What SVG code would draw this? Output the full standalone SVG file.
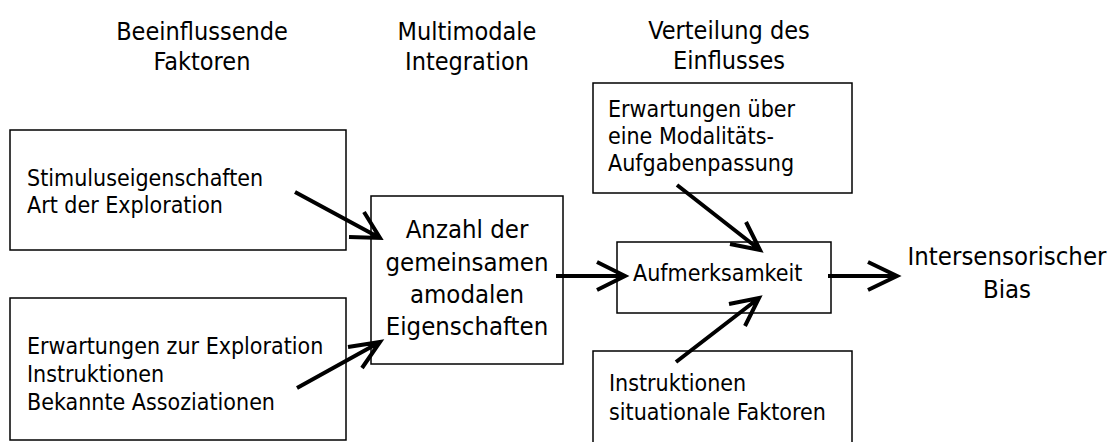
<svg xmlns="http://www.w3.org/2000/svg" width="1114" height="442" viewBox="0 0 1114 442">
  <style>
    .box { fill: #ffffff; stroke: #000000; stroke-width: 1.5; }
    .t { font-family: "DejaVu Sans Condensed", "DejaVu Sans", sans-serif; fill: #000000; }
    .hd { font-size: 25px; text-anchor: middle; }
    .big { font-size: 25.5px; text-anchor: middle; }
    .sm { font-size: 23px; }
    .conn { fill: none; stroke: #000000; stroke-width: 4; stroke-linecap: butt; stroke-linejoin: miter; }
  </style>
  <rect width="1114" height="442" fill="#ffffff"/>

  <!-- column headings -->
  <g id="headings" class="t hd">
    <text x="202" y="40">Beeinflussende</text>
    <text x="202" y="70">Faktoren</text>
    <text x="467" y="40">Multimodale</text>
    <text x="467" y="70">Integration</text>
    <text x="729" y="39">Verteilung des</text>
    <text x="729" y="69">Einflusses</text>
  </g>

  <g id="stimulus">
    <rect class="box" x="10" y="130" width="336" height="120"/>
    <text class="t sm" x="27" y="186">Stimuluseigenschaften</text>
    <text class="t sm" x="27" y="213">Art der Exploration</text>
  </g>

  <g id="erwartungen-exploration">
    <rect class="box" x="10" y="298" width="336" height="142"/>
    <text class="t sm" x="27" y="354">Erwartungen zur Exploration</text>
    <text class="t sm" x="27" y="382">Instruktionen</text>
    <text class="t sm" x="27" y="410">Bekannte Assoziationen</text>
  </g>

  <g id="anzahl">
    <rect class="box" x="371" y="196" width="192" height="168"/>
    <text class="t big" x="467" y="238">Anzahl der</text>
    <text class="t big" x="467" y="271">gemeinsamen</text>
    <text class="t big" x="467" y="303">amodalen</text>
    <text class="t big" x="467" y="335">Eigenschaften</text>
  </g>

  <g id="erwartungen-modalitaet">
    <rect class="box" x="593" y="83" width="259" height="110"/>
    <text class="t sm" x="608" y="117">Erwartungen über</text>
    <text class="t sm" x="608" y="144">eine Modalitäts-</text>
    <text class="t sm" x="608" y="171">Aufgabenpassung</text>
  </g>

  <g id="aufmerksamkeit">
    <rect class="box" x="617" y="242" width="214" height="71"/>
    <text class="t sm" x="633" y="281">Aufmerksamkeit</text>
  </g>

  <g id="situational">
    <rect class="box" x="593" y="351" width="259" height="100"/>
    <text class="t sm" x="609" y="391">Instruktionen</text>
    <text class="t sm" x="609" y="420">situationale Faktoren</text>
  </g>

  <g id="bias" class="t big">
    <text x="1007" y="265">Intersensorischer</text>
    <text x="1007" y="298">Bias</text>
  </g>

  <!-- connectors: straight shafts with open V heads -->
  <g id="connectors" class="conn">
    <path d="M295 192 L380 238 M349 237 L380 238 L364 212"/>
    <path d="M297 388 L380 342 M348 347 L380 342 L362 368"/>
    <path d="M556 276 L625 276 M597 262 L625 276 L597 290"/>
    <path d="M828 276 L897 276 M868 262 L897 276 L868 290"/>
    <path d="M677 185 L760 250 M746 222 L760 250 L730 244"/>
    <path d="M676 362 L759 298 M729 304 L759 298 L745 326"/>
  </g>
</svg>
